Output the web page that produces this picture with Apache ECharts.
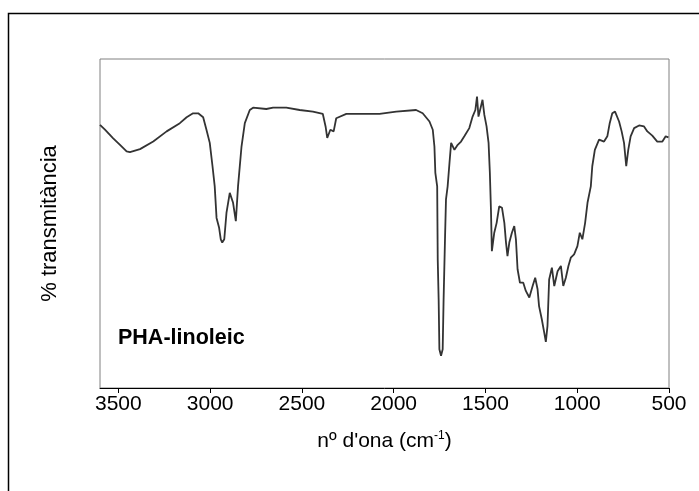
<!DOCTYPE html>
<html>
<head>
<meta charset="utf-8">
<script src="https://cdn.jsdelivr.net/npm/echarts@6/dist/echarts.min.js"></script>
<style>
html,body{margin:0;padding:0;background:#fff;}
#chart{width:699px;height:491px;}
</style>
</head>
<body>
<div id="chart"></div>
<script>
// Wavenumber (cm-1) and relative transmittance (arbitrary units)
var wavenumbers = [3600,3573,3528,3491,3455,3437,3382,3310,3237,3165,3128,3093,3065,3038,3020,3002,2987,2975,2965,2951,2942,2934,2923,2911,2893,2875,2860,2848,2829,2811,2784,2766,2694,2657,2585,2512,2440,2386,2371,2362,2345,2327,2313,2258,2077,1986,1878,1842,1805,1787,1778,1773,1763,1760,1755,1751,1742,1733,1728,1720,1715,1706,1696,1687,1669,1651,1633,1615,1588,1570,1555,1546,1538,1525,1516,1506,1494,1483,1476,1470,1465,1452,1439,1425,1410,1397,1388,1380,1370,1356,1343,1334,1325,1312,1294,1280,1261,1243,1229,1216,1208,1193,1180,1171,1162,1153,1138,1125,1107,1089,1076,1062,1048,1035,1017,999,986,972,957,944,926,918,904,881,854,836,823,809,794,772,758,745,733,722,709,690,663,636,618,591,564,536,518,503];
var transmittance = [80.0,78.5,75.9,73.9,71.9,71.7,72.6,74.9,78.0,80.5,82.3,83.5,83.5,82.3,78.5,74.5,67.4,61.3,51.7,48.7,45.2,44.2,45.2,53.2,59.3,56.3,50.7,61.3,73.4,80.5,84.5,85.2,84.8,85.2,85.2,84.5,84.0,83.3,79.5,76.0,78.5,78.0,82.0,83.3,83.3,84.0,84.5,83.5,81.0,78.5,73.4,65.4,61.3,39.1,27.0,11.8,9.8,11.8,27.0,46.2,57.3,61.3,68.4,74.5,72.4,73.9,74.9,76.5,79.0,82.5,84.5,88.6,82.5,85.5,87.6,83.0,79.5,74.5,65.4,54.2,41.6,47.2,50.2,55.2,54.8,50.2,44.2,40.1,44.2,47.2,49.2,45.2,36.1,32.0,32.0,29.5,27.5,31.0,33.5,30.0,24.9,20.9,16.9,14.0,18.9,33.0,36.6,31.0,35.5,37.1,31.0,33.5,37.1,39.6,40.6,43.1,47.2,45.2,50.2,56.3,61.3,67.4,72.4,75.5,74.9,76.5,80.5,83.5,84.0,81.0,78.0,74.5,67.4,72.4,76.5,79.0,79.8,79.5,78.0,76.7,74.9,74.9,76.5,76.2];
var xTicks = [3500,3000,2500,2000,1500,1000,500];
var sampleLabel = 'PHA-linoleic';
var xTitle = "nº d'ona (cm";
var xTitleSup = '-1';
var yTitle = '% transmitància';

var data = wavenumbers.map(function(w,i){return [w, transmittance[i]];});
var font = '"Liberation Sans", Arial, sans-serif';

var chart = echarts.init(document.getElementById('chart'), null, {renderer:'canvas'});
chart.setOption({
  animation:false,
  backgroundColor:'#ffffff',
  grid:{left:100,right:30,top:59,bottom:103,show:true,borderColor:'#808080',borderWidth:1,containLabel:false},
  xAxis:{
    type:'value', inverse:true, min:500, max:3600, interval:500,
    axisLine:{show:true,lineStyle:{color:'#000',width:1}},
    axisTick:{show:true,length:5,inside:false,lineStyle:{color:'#000'},customValues:xTicks},
    axisLabel:{color:'#000',fontSize:21,fontFamily:font,margin:6,customValues:xTicks,
      formatter:function(v){return String(v);}},
    splitLine:{show:false},
    name:xTitle+'{s|'+xTitleSup+'}'+')',
    nameLocation:'middle', nameGap:42,
    nameTextStyle:{color:'#000',fontSize:21,fontFamily:font,rich:{s:{fontSize:12,fontFamily:font,color:'#000',verticalAlign:'top',padding:[0,0,10,0]}}}
  },
  yAxis:{
    type:'value', min:0, max:100,
    axisLine:{show:false}, axisTick:{show:false}, axisLabel:{show:false}, splitLine:{show:false},
    name:yTitle, nameLocation:'middle', nameGap:39, nameRotate:90,
    nameTextStyle:{color:'#000',fontSize:22,fontFamily:font}
  },
  series:[{
    type:'line', data:data, showSymbol:false, symbol:'none',
    lineStyle:{color:'#333333',width:1.8}, silent:true
  }],
  graphic:[
    {type:'rect', shape:{x:8.5,y:13.5,width:720,height:520}, style:{fill:null,stroke:'#000',lineWidth:1.5}, silent:true},
    {type:'text', left:118, top:327, style:{text:sampleLabel, font:'bold 21.5px '+font, fill:'#000'}}
  ]
});
</script>
</body>
</html>
